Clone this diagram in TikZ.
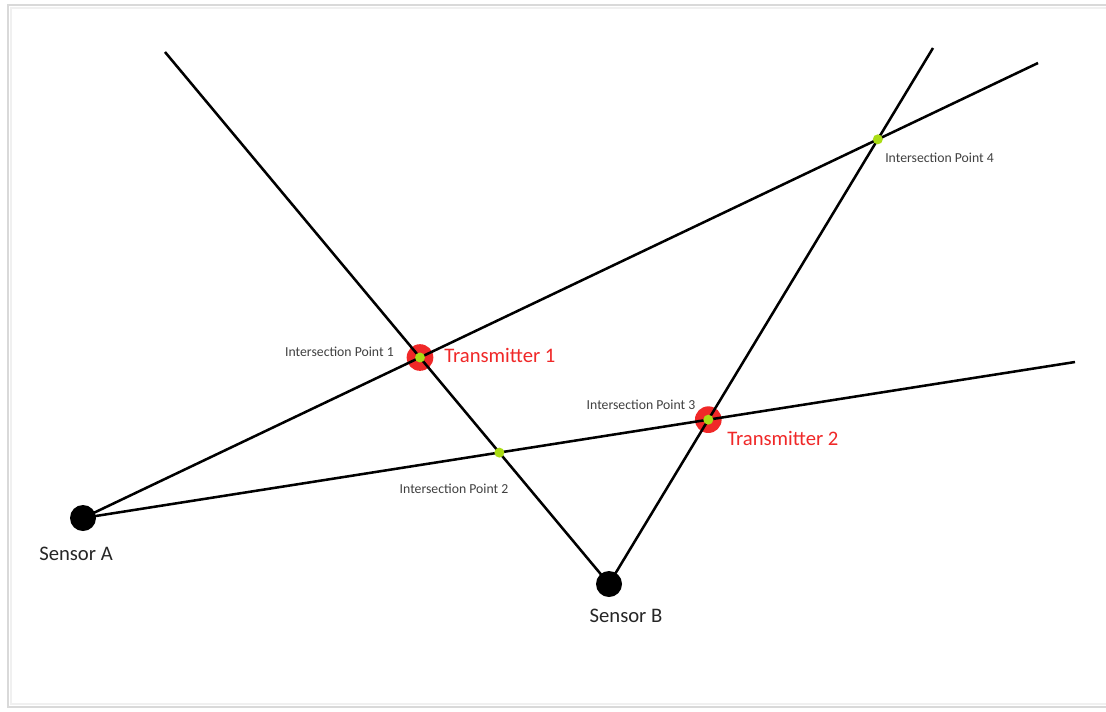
\documentclass[tikz,border=0pt]{standalone}
\usepackage{fontspec}
\setmainfont{Carlito}
\definecolor{ipgreen}{RGB}{170,220,20}
\definecolor{txred}{RGB}{240,40,40}
\definecolor{lbl}{RGB}{64,64,64}
\begin{document}
\begin{tikzpicture}[x=0.75pt,y=-0.75pt,
  ray/.style={line width=1.9pt,black},
  sensor/.style={circle,fill=black,inner sep=0pt,minimum size=19.5pt},
  txmark/.style={circle,fill=txred,inner sep=0pt,minimum size=20pt},
  ipdot/.style={circle,fill=ipgreen,inner sep=0pt,minimum size=7.5pt},
  iplabel/.style={text=lbl,font=\fontsize{10.3}{11}\selectfont,inner sep=0pt},
  txlabel/.style={text=txred,font=\fontsize{15.5}{17}\selectfont,inner sep=0pt},
  senslabel/.style={text=black!85,font=\fontsize{15.5}{17}\selectfont,inner sep=0pt}]
\useasboundingbox (0,0) rectangle (1106,711);
\fill[white] (0,0) rectangle (1106,711);
% frame shadow
\draw[gray!30,line width=2pt] (1106,5) -- (8,5) -- (8,707) -- (1106,707);
\draw[gray!12,line width=1.5pt] (1106,8) -- (11,8) -- (11,704) -- (1106,704);
% endpoints
\coordinate (A) at (83,518);
\coordinate (B) at (609,584);
\coordinate (e1) at (165,52);
\coordinate (e2) at (1038,63);
\coordinate (e3) at (1075,362);
\coordinate (e4) at (933,48);
% intersections
\coordinate (p1) at (intersection of e1--B and A--e2);
\coordinate (p2) at (intersection of e1--B and A--e3);
\coordinate (p3) at (intersection of B--e4 and A--e3);
\coordinate (p4) at (intersection of B--e4 and A--e2);
% red transmitter marks under lines
\node[txmark] (t1) at (p1) {};
\node[txmark] (t2) at (p3) {};
% rays
\draw[ray] (e1) -- (B);
\draw[ray] (A) -- (e2);
\draw[ray] (A) -- (e3);
\draw[ray] (B) -- (e4);
% sensors
\node[sensor] (sA) at (A) {};
\node[sensor] (sB) at (B) {};
% intersection dots
\node[ipdot] (d1) at (p1) {};
\node[ipdot] (d2) at (p2) {};
\node[ipdot] (d3) at (p3) {};
\node[ipdot] (d4) at (p4) {};
% labels
\node[iplabel,anchor=east] (l1) at (394,352) {Intersection Point 1};
\node[iplabel] (l2) at (454,489) {Intersection Point 2};
\node[iplabel] (l3) at (641,405) {Intersection Point 3};
\node[iplabel,anchor=west] (l4) at (885,158) {Intersection Point 4};
\node[txlabel,anchor=west] (tl1) at (444,355) {Transmitter 1};
\node[txlabel,anchor=west] (tl2) at (727,438) {Transmitter 2};
\node[senslabel] (sl1) at (76,554) {Sensor A};
\node[senslabel] (sl2) at (626,616) {Sensor B};
\end{tikzpicture}
\end{document}
